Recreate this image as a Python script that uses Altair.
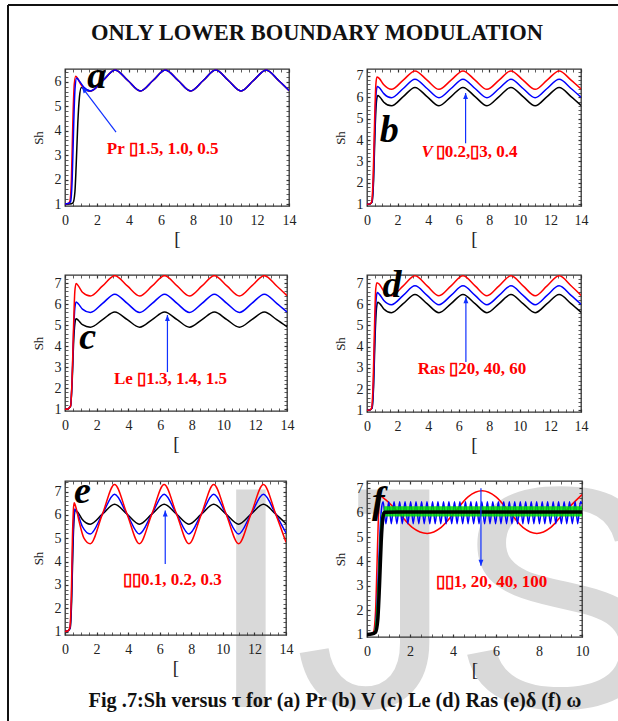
import altair as alt
import pandas as pd

SERIF = "Liberation Serif"
RED = "#ff0000"
BLUE = "#0000ff"
BLACK = "#000000"
GREEN = "#00dd00"

# ---------------- data ----------------
tau_osc = [1.6, 2.37, 3.14, 3.93, 4.71, 5.5, 6.28, 7.07, 7.85, 8.64, 9.42,
           10.21, 11.0, 11.78, 12.57, 13.35, 14.0]

# (a) Pr = 1.5, 1.0, 0.5
a_red_x = [0, 0.2, 0.3, 0.4, 0.5, 0.58, 0.67, 0.8, 1.0, 1.2] + tau_osc
a_red_y = [1.0, 1.02, 1.1, 2.0, 4.6, 5.9, 6.22, 6.12, 5.88, 5.72,
           5.62, 6.05, 6.48, 6.05, 5.62, 6.05, 6.48, 6.05, 5.62, 6.05, 6.48, 6.05, 5.62, 6.05, 6.48, 6.05, 5.64]
a_blue_x = [0, 0.2, 0.35, 0.45, 0.55, 0.63, 0.73, 0.9, 1.2] + tau_osc
a_blue_y = [1.0, 1.02, 1.1, 2.0, 4.4, 5.75, 6.15, 6.02, 5.76,
            5.62, 6.05, 6.48, 6.05, 5.62, 6.05, 6.48, 6.05, 5.62, 6.05, 6.48, 6.05, 5.62, 6.05, 6.48, 6.05, 5.64]
a_black_x = [0, 0.3, 0.5, 0.62, 0.7, 0.8, 0.9, 1.02, 1.2] + tau_osc
a_black_y = [1.0, 1.0, 1.05, 1.5, 2.6, 4.3, 5.35, 5.76, 5.7,
             5.62, 6.05, 6.48, 6.05, 5.62, 6.05, 6.48, 6.05, 5.62, 6.05, 6.48, 6.05, 5.62, 6.05, 6.48, 6.05, 5.64]

# (b) V = 0.2, 0.3, 0.4
b_red_x = [0, 0.2, 0.3, 0.4, 0.5, 0.58, 0.65, 0.8, 1.1] + tau_osc
b_red_y = [1.0, 1.02, 1.1, 2.2, 5.0, 6.6, 6.95, 6.88, 6.58,
           6.37, 6.8, 7.23, 6.8, 6.37, 6.8, 7.23, 6.8, 6.37, 6.8, 7.23, 6.8, 6.37, 6.8, 7.23, 6.8, 6.39]
b_blue_x = [0, 0.2, 0.32, 0.42, 0.52, 0.6, 0.67, 0.8, 1.1] + tau_osc
b_blue_y = [1.0, 1.02, 1.1, 2.2, 4.8, 6.2, 6.5, 6.45, 6.17,
            5.98, 6.41, 6.84, 6.41, 5.98, 6.41, 6.84, 6.41, 5.98, 6.41, 6.84, 6.41, 5.98, 6.41, 6.84, 6.41, 6.0]
b_black_x = [0, 0.2, 0.33, 0.43, 0.53, 0.62, 0.7, 0.85, 1.1] + tau_osc
b_black_y = [1.0, 1.02, 1.1, 2.1, 4.5, 5.8, 6.08, 6.0, 5.77,
             5.6, 6.03, 6.46, 6.03, 5.6, 6.03, 6.46, 6.03, 5.6, 6.03, 6.46, 6.03, 5.6, 6.03, 6.46, 6.03, 5.62]

# (c) Le = 1.3, 1.4, 1.5
c_x = [0, 0.2, 0.35, 0.45, 0.55, 0.62, 0.7, 0.85, 1.1] + tau_osc
c_red_y = [1.0, 1.03, 1.15, 2.5, 5.2, 6.6, 6.98, 6.85, 6.56,
           6.38, 6.86, 7.35, 6.86, 6.38, 6.86, 7.35, 6.86, 6.38, 6.86, 7.35, 6.86, 6.38, 6.86, 7.35, 6.86, 6.4]
c_blue_y = [1.0, 1.03, 1.15, 2.4, 4.8, 5.8, 6.1, 6.0, 5.76,
            5.6, 6.03, 6.47, 6.03, 5.6, 6.03, 6.47, 6.03, 5.6, 6.03, 6.47, 6.03, 5.6, 6.03, 6.47, 6.03, 5.62]
c_black_y = [1.0, 1.03, 1.15, 2.3, 4.3, 5.05, 5.3, 5.22, 5.02,
             4.9, 5.26, 5.62, 5.26, 4.9, 5.26, 5.62, 5.26, 4.9, 5.26, 5.62, 5.26, 4.9, 5.26, 5.62, 5.26, 4.92]

# (d) Ras = 20, 40, 60
d_red_x = [0, 0.2, 0.3, 0.4, 0.5, 0.57, 0.65, 0.8, 1.1] + tau_osc
d_red_y = [1.0, 1.02, 1.1, 2.3, 5.2, 6.7, 7.02, 6.95, 6.62,
           6.4, 6.87, 7.34, 6.87, 6.4, 6.87, 7.34, 6.87, 6.4, 6.87, 7.34, 6.87, 6.4, 6.87, 7.34, 6.87, 6.42]
d_blue_x = [0, 0.2, 0.32, 0.42, 0.52, 0.6, 0.67, 0.8, 1.1] + tau_osc
d_blue_y = [1.0, 1.02, 1.1, 2.2, 4.9, 6.25, 6.55, 6.48, 6.18,
            5.98, 6.42, 6.87, 6.42, 5.98, 6.42, 6.87, 6.42, 5.98, 6.42, 6.87, 6.42, 5.98, 6.42, 6.87, 6.42, 6.0]
d_black_x = [0, 0.2, 0.33, 0.43, 0.53, 0.62, 0.7, 0.85, 1.1] + tau_osc
d_black_y = [1.0, 1.02, 1.1, 2.1, 4.5, 5.8, 6.1, 6.02, 5.78,
             5.6, 6.03, 6.46, 6.03, 5.6, 6.03, 6.46, 6.03, 5.6, 6.03, 6.46, 6.03, 5.6, 6.03, 6.46, 6.03, 5.62]

# (e) delta = 0.1, 0.2, 0.3
e_red_x = [0, 0.2, 0.3, 0.4, 0.47, 0.53, 0.58, 0.7, 0.9, 1.2] + tau_osc
e_red_y = [1.0, 1.03, 1.15, 2.5, 5.0, 6.2, 6.52, 6.3, 5.7, 5.0,
           4.76, 6.03, 7.3, 6.03, 4.76, 6.03, 7.3, 6.03, 4.76, 6.03, 7.3, 6.03, 4.76, 6.03, 7.3, 6.03, 4.82]
e_blue_x = [0, 0.2, 0.32, 0.41, 0.49, 0.56, 0.62, 0.8, 1.1] + tau_osc
e_blue_y = [1.0, 1.03, 1.15, 2.4, 4.7, 5.9, 6.25, 6.05, 5.5,
            5.18, 6.03, 6.88, 6.03, 5.18, 6.03, 6.88, 6.03, 5.18, 6.03, 6.88, 6.03, 5.18, 6.03, 6.88, 6.03, 5.22]
e_black_x = [0, 0.2, 0.33, 0.42, 0.5, 0.57, 0.65, 0.8, 1.1] + tau_osc
e_black_y = [1.0, 1.03, 1.15, 2.3, 4.5, 5.8, 6.2, 6.12, 5.8,
             5.6, 6.03, 6.45, 6.03, 5.6, 6.03, 6.45, 6.03, 5.6, 6.03, 6.45, 6.03, 5.6, 6.03, 6.45, 6.03, 5.62]

# (f) omega = 1, 20, 40, 100
f_red_x = [0, 0.2, 0.3, 0.4, 0.47, 0.53, 0.6, 0.66, 0.8, 1.45, 2.1, 2.8, 3.45, 4.08,
           4.7, 5.35, 6.0, 6.63, 7.25, 7.9, 8.55, 9.18, 10.0]
f_red_y = [1.0, 1.03, 1.1, 2.0, 4.0, 5.8, 6.55, 6.66, 6.58, 6.02, 5.4, 5.15, 5.4, 6.02,
           6.65, 6.9, 6.65, 6.02, 5.4, 5.15, 5.4, 6.02, 6.74]
f_blue_x = [0, 0.2, 0.35, 0.45, 0.55, 0.62, 0.68,
            0.75, 0.88, 1.01, 1.13, 1.26, 1.39, 1.52, 1.64, 1.77, 1.90, 2.03, 2.15, 2.28, 2.41,
            2.54, 2.66, 2.79, 2.92, 3.05, 3.17, 3.30, 3.43, 3.56, 3.68, 3.81, 3.94, 4.07, 4.19,
            4.32, 4.45, 4.58, 4.70, 4.83, 4.96, 5.09, 5.21, 5.34, 5.47, 5.60, 5.72, 5.85, 5.98,
            6.11, 6.23, 6.36, 6.49, 6.62, 6.74, 6.87, 7.00, 7.13, 7.25, 7.38, 7.51, 7.64, 7.76,
            7.89, 8.02, 8.15, 8.27, 8.40, 8.53, 8.66, 8.78, 8.91, 9.04, 9.17, 9.29, 9.42, 9.55,
            9.68, 9.80, 9.93, 10.0]
f_blue_y = [1.0, 1.02, 1.1, 2.0, 4.0, 5.5, 6.2,
            6.45, 5.55, 6.45, 5.55, 6.45, 5.55, 6.45, 5.55, 6.45, 5.55, 6.45, 5.55, 6.45, 5.55,
            6.45, 5.55, 6.45, 5.55, 6.45, 5.55, 6.45, 5.55, 6.45, 5.55, 6.45, 5.55, 6.45, 5.55,
            6.45, 5.55, 6.45, 5.55, 6.45, 5.55, 6.45, 5.55, 6.45, 5.55, 6.45, 5.55, 6.45, 5.55,
            6.45, 5.55, 6.45, 5.55, 6.45, 5.55, 6.45, 5.55, 6.45, 5.55, 6.45, 5.55, 6.45, 5.55,
            6.45, 5.55, 6.45, 5.55, 6.45, 5.55, 6.45, 5.55, 6.45, 5.55, 6.45, 5.55, 6.45, 5.55,
            6.45, 5.55, 6.45, 6.37]
f_green_x = [0, 0.2, 0.35, 0.45, 0.55, 0.62, 0.7, 0.78]
f_green_y = [1.0, 1.02, 1.1, 1.8, 3.5, 5.0, 5.9, 6.05]
f_green_band_x = [0.78, 10.0]
f_green_band_lo = [5.84, 5.84]
f_green_band_hi = [6.26, 6.26]
f_black_x = [0, 0.2, 0.4, 0.5, 0.58, 0.66, 0.74, 0.82, 1.5, 10.0]
f_black_y = [1.0, 1.02, 1.1, 1.6, 3.0, 4.8, 5.8, 6.02, 6.03, 6.03]

# ---------------- texts and ticks ----------------
TOP_TITLE = "ONLY LOWER BOUNDARY MODULATION"
CAPTION = "Fig .7:Sh versus \u03c4  for (a) Pr (b) V (c) Le (d) Ras (e)\u03b4 (f) \u03c9"
X_TITLE = "["
Y_TITLE = "Sh"

x_ticks_14 = [0, 0.5, 1, 1.5, 2, 2.5, 3, 3.5, 4, 4.5, 5, 5.5, 6, 6.5, 7, 7.5,
              8, 8.5, 9, 9.5, 10, 10.5, 11, 11.5, 12, 12.5, 13, 13.5, 14]
x_ticks_10 = [0, 0.5, 1, 1.5, 2, 2.5, 3, 3.5, 4, 4.5, 5, 5.5, 6, 6.5, 7, 7.5,
              8, 8.5, 9, 9.5, 10]
y_ticks_64 = [1, 1.2, 1.4, 1.6, 1.8, 2, 2.2, 2.4, 2.6, 2.8, 3, 3.2, 3.4, 3.6, 3.8,
              4, 4.2, 4.4, 4.6, 4.8, 5, 5.2, 5.4, 5.6, 5.8, 6, 6.2, 6.4]
y_ticks_72 = y_ticks_64 + [6.6, 6.8, 7, 7.2]
y_ticks_74 = y_ticks_72 + [7.4]

X_LABELS = "datum.value % 2 == 0 ? format(datum.value, 'd') : ''"
Y_LABELS = "datum.value % 1 == 0 ? format(datum.value, 'd') : ''"
X_MAJOR = "datum.value % 2 == 0"
Y_MAJOR = "datum.value % 1 == 0"

ARROW = "M0,0L-0.4,1L0.4,1Z"


def df(**cols):
    return pd.DataFrame(cols)


def tick_w(test):
    return {"condition": {"test": test, "value": 1.2}, "value": 0.8}


def panel(curves, xdom, xticks, ydom, yticks, w, h, letter, letter_xy,
          label, arrow, pre=None, post=None, after=None):
    xs_ = alt.Scale(domain=xdom, nice=False, zero=False)
    ys_ = alt.Scale(domain=ydom, nice=False, zero=False)
    X0 = alt.X("x:Q", scale=xs_, axis=alt.Axis(
        orient="bottom", values=xticks, title=X_TITLE, labelExpr=X_LABELS,
        tickWidth=tick_w(X_MAJOR)))
    Y0 = alt.Y("y:Q", scale=ys_, axis=alt.Axis(
        orient="left", values=yticks, title=Y_TITLE, labelExpr=Y_LABELS,
        tickWidth=tick_w(Y_MAJOR)))
    XT = alt.X("x:Q", scale=xs_, axis=alt.Axis(
        orient="top", values=xticks, title=None, labels=False, tickWidth=tick_w(X_MAJOR)))
    YR = alt.Y("y:Q", scale=ys_, axis=alt.Axis(
        orient="right", values=yticks, title=None, labels=False, tickWidth=tick_w(Y_MAJOR)))
    X = alt.X("x:Q", scale=xs_, axis=None)
    Y = alt.Y("y:Q", scale=ys_, axis=None)

    layers = list(pre or [])
    first = True
    for xs, ys, color, sw in curves:
        layers.append(
            alt.Chart(df(x=xs, y=ys)).mark_line(
                color=color, strokeWidth=sw, interpolate="monotone", clip=True
            ).encode(x=X0 if first else X, y=Y0 if first else Y)
        )
        first = False
        if post is not None and color == post[0]:
            layers.append(post[1](X, Y))
    (ax1, ay1, ax2, ay2, ang) = arrow
    layers.append(
        alt.Chart(df(x=[ax1], y=[ay1], x2=[ax2], y2=[ay2])).mark_rule(
            color="#1030ff", strokeWidth=1.2
        ).encode(x=X, y=Y, x2="x2:Q", y2="y2:Q")
    )
    layers.append(
        alt.Chart(df(x=[ax2], y=[ay2])).mark_point(
            shape=ARROW, filled=True, size=150, color="#1030ff", opacity=1, angle=ang
        ).encode(x=XT, y=YR)
    )
    for (lx, ly, txt, align, italic) in label:
        layers.append(
            alt.Chart(df(x=[lx], y=[ly], t=[txt])).mark_text(
                font=SERIF, fontWeight="bold", fontSize=17, color=RED,
                align=align, baseline="middle",
                fontStyle="italic" if italic else "normal",
            ).encode(x=X, y=Y, text="t:N")
        )
    layers.append(
        alt.Chart(df(x=[letter_xy[0]], y=[letter_xy[1]], t=[letter])).mark_text(
            font=SERIF, fontWeight="bold", fontStyle="italic", fontSize=38,
            color=BLACK, align="center", baseline="alphabetic",
        ).encode(x=X, y=Y, text="t:N")
    )
    layers += list(after or [])
    return alt.layer(*layers).properties(width=w, height=h)


# figure heading and caption (pixel offsets relative to panel a / panel e)
heading = alt.Chart(df(t=[TOP_TITLE])).mark_text(
    font=SERIF, fontSize=22.5, fontWeight="bold", color="#111",
    align="center", baseline="alphabetic").encode(
    x=alt.value(252), y=alt.value(-29), text="t:N")
caption = alt.Chart(df(t=[CAPTION])).mark_text(
    font=SERIF, fontSize=20.3, fontWeight="bold", color="#111",
    align="center", baseline="alphabetic").encode(
    x=alt.value(270), y=alt.value(226), text="t:N")

# page frame and watermark (pixel offsets relative to panel c)
page_left = alt.Chart(df(k=[0])).mark_rule(color="#111", strokeWidth=2).encode(
    x=alt.value(-57), y=alt.value(-270), y2=alt.value(460))
page_top = alt.Chart(df(k=[0])).mark_rule(color="#111", strokeWidth=2).encode(
    x=alt.value(-57), x2=alt.value(570), y=alt.value(-270))
watermark = alt.Chart(df(t=["IJS"])).mark_text(
    font="Liberation Sans", fontSize=316, color="#d9d9d9",
    align="left", baseline="alphabetic").encode(
    x=alt.value(142), y=alt.value(432), text="t:N")

pa = panel(
    [(a_black_x, a_black_y, BLACK, 1.5), (a_red_x, a_red_y, RED, 1.5), (a_blue_x, a_blue_y, BLUE, 1.5)],
    [0, 14], x_ticks_14, [0.92, 6.52], y_ticks_64, 224, 137, "a", (1.98, 5.74),
    [(6.1, 3.25, "Pr \u25af1.5, 1.0, 0.5", "center", False)],
    (3.19, 3.94, 1.06, 5.78, 323), after=[heading])
pb = panel(
    [(b_black_x, b_black_y, BLACK, 1.5), (b_blue_x, b_blue_y, BLUE, 1.5), (b_red_x, b_red_y, RED, 1.5)],
    [0, 14], x_ticks_14, [0.92, 7.32], y_ticks_72, 214, 137, "b", (1.45, 3.91),
    [(4.3, 3.46, "V", "right", True), (4.5, 3.46, "\u25af0.2,\u25af3, 0.4", "left", False)],
    (6.45, 3.85, 6.45, 6.2, 0))
pc = panel(
    [(c_x, c_black_y, BLACK, 1.5), (c_x, c_blue_y, BLUE, 1.5), (c_x, c_red_y, RED, 1.5)],
    [0, 14], x_ticks_14, [0.92, 7.38], y_ticks_72, 222, 136, "c", (1.43, 3.86),
    [(6.65, 2.44, "Le \u25af1.3, 1.4, 1.5", "center", False)],
    (6.46, 2.77, 6.46, 5.48, 0), pre=[watermark, page_left, page_top])
pd_ = panel(
    [(d_black_x, d_black_y, BLACK, 1.5), (d_blue_x, d_blue_y, BLUE, 1.5), (d_red_x, d_red_y, RED, 1.5)],
    [0, 14], x_ticks_14, [0.92, 7.38], y_ticks_72, 214, 137, "d", (1.64, 6.34),
    [(6.87, 2.96, "Ras \u25af20, 40, 60", "center", False)],
    (6.47, 3.28, 6.47, 6.34, 0))
pe = panel(
    [(e_black_x, e_black_y, BLACK, 1.5), (e_blue_x, e_blue_y, BLUE, 1.5), (e_red_x, e_red_y, RED, 1.5)],
    [0, 14], x_ticks_14, [0.85, 7.45], y_ticks_74, 221, 154, "e", (1.1, 6.5),
    [(6.8, 3.2, "\u25af\u25af0.1, 0.2, 0.3", "center", False)],
    (6.35, 3.89, 6.35, 6.19, 0), after=[caption])


def green_band(X, Y):
    return alt.Chart(df(x=f_green_band_x, y=f_green_band_lo, y2=f_green_band_hi)).mark_area(
        color=GREEN, opacity=0.85, clip=True).encode(x=X, y=Y, y2="y2:Q")


pf = panel(
    [(f_red_x, f_red_y, RED, 1.5), (f_blue_x, f_blue_y, BLUE, 1.5),
     (f_green_x, f_green_y, GREEN, 1.5), (f_black_x, f_black_y, BLACK, 3.5)],
    [0, 10], x_ticks_10, [0.9, 7.3], y_ticks_72, 215, 156, "f", (0.53, 6.0),
    [(5.79, 3.17, "\u25af\u25af1, 20, 40, 100", "center", False)],
    (5.3, 7.0, 5.3, 3.82, 180), post=(GREEN, green_band))

chart = alt.concat(
    pa, pb, pc, pd_, pe, pf, columns=2,
    spacing={"row": 69, "column": 78}, bounds="flush",
).properties(
    autosize=alt.AutoSizeParams(type="none"),
    padding={"left": 65, "top": 69, "right": 553, "bottom": 652},
).configure_axis(
    labelFont=SERIF, labelFontSize=14, labelColor="#222", titleFont=SERIF,
    titleColor="#222", titleFontWeight="normal", domain=False, grid=False,
    tickColor="#333", tickSize=3, offset=-3, labelFlush=False, labelOverlap=False,
).configure_axisX(
    labelPadding=7, titleFontSize=19, titlePadding=2,
).configure_axisY(
    labelPadding=4, titleFontSize=13, titlePadding=9,
).configure_view(stroke="#333", strokeWidth=1.3)

chart.save("out.html", embed_options={"renderer": "svg", "actions": False})
